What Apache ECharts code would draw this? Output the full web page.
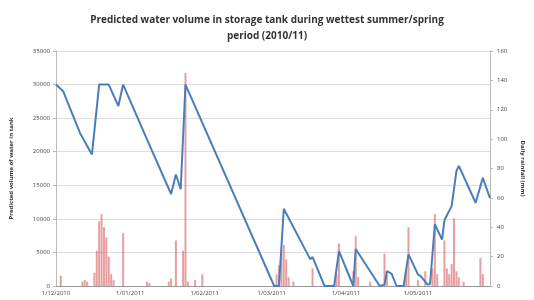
<!DOCTYPE html>
<html lang="en" style="height: 100%">
<head>
  <meta charset="utf-8">
</head>
<body style="height: 100%; margin: 0; background: #fff">
  <div id="container" style="width: 534px; height: 300px"></div>

  <script type="text/javascript" src="https://fastly.jsdelivr.net/npm/echarts@6/dist/echarts.min.js"></script>
  <script type="text/javascript">
    // one category per day, 1 Dec 2010 .. 31 May 2011
    var startDate = new Date(2010, 11, 1);
    var dayCount = 182;

    // predicted tank volume (L), [day index, value] at the turning points
    var volume = [
      [0, 30000], [3, 29000], [10, 22800], [12, 21500], [15, 19600],
      [18, 30000], [22, 30000], [26, 26800], [28, 30000], [38, 21800],
      [48, 13700], [50, 16600], [52, 14400], [54, 30000], [91, 0],
      [93, 0], [95, 11500], [106, 4000], [107, 4300], [112, 0],
      [116, 0], [118, 5200], [124, 0], [125, 5500], [135, 0],
      [137, 200], [138, 2200], [140, 1800], [142, 0], [145, 0],
      [147, 4700], [151, 1700], [152, 1500], [155, 200], [156, 300],
      [158, 9200], [161, 6900], [162, 9800], [163, 10500], [165, 11900],
      [167, 17100], [168, 17900], [175, 12400], [178, 16100], [181, 13100]
    ];

    // daily rainfall (mm), [day index, value]
    var rainfall = [
      [2, 7], [11, 3], [12, 4], [13, 3], [16, 9], [17, 24], [18, 44], [19, 49],
      [20, 40], [21, 33], [22, 20], [23, 8], [24, 4], [28, 36], [38, 3], [39, 2],
      [47, 3], [48, 5], [50, 31], [53, 24], [54, 145], [55, 3], [58, 4], [61, 8],
      [92, 8], [93, 14], [94, 24], [95, 28], [96, 18], [97, 6], [99, 3], [107, 12],
      [117, 8], [118, 29], [124, 10], [125, 34], [126, 6], [131, 3], [137, 22], [138, 8],
      [146, 10], [147, 40], [151, 4], [154, 10], [157, 12], [158, 49], [159, 8],
      [162, 31], [163, 12], [164, 8], [165, 15], [166, 46], [167, 10], [168, 6],
      [170, 3], [177, 19], [178, 8]
    ];

    var days = [];
    for (var i = 0; i < dayCount; i++) {
      var d = new Date(startDate.getFullYear(), startDate.getMonth(), startDate.getDate() + i);
      var mm = d.getMonth() + 1;
      days.push(d.getDate() + '/' + (mm < 10 ? '0' + mm : mm) + '/' + d.getFullYear());
    }

    var myChart = echarts.init(document.getElementById('container'), null, { renderer: 'canvas' });
    var firstOfMonth = function (idx, value) { return value.indexOf('1/') === 0; };

    var option = {
      backgroundColor: '#fff',
      animation: false,
      textStyle: { fontFamily: 'Open Sans' },
      title: {
        text: 'Predicted water volume in storage tank during wettest summer/spring\nperiod (2010/11)',
        left: 'center',
        top: 7,
        textStyle: { fontSize: 10, fontWeight: 'bold', lineHeight: 16, color: '#333', fontFamily: 'Open Sans' }
      },
      grid: { left: 55, right: 36, top: 51, bottom: 14 },
      xAxis: {
        type: 'category',
        data: days,
        boundaryGap: false,
        axisLine: { lineStyle: { color: '#999' } },
        axisTick: { show: false },
        axisLabel: { interval: firstOfMonth, fontSize: 6, color: '#444', margin: 4 }
      },
      yAxis: [
        {
          type: 'value',
          min: 0, max: 35000, interval: 5000,
          name: 'Predicted volume of water in tank',
          nameLocation: 'middle',
          nameGap: 42,
          nameTextStyle: { fontSize: 6, fontWeight: 'bold', color: '#333' },
          axisLine: { show: true, lineStyle: { color: '#bbb' } },
          axisTick: { show: true, length: 3, lineStyle: { color: '#bbb' } },
          axisLabel: { fontSize: 6, color: '#444', margin: 6, formatter: function (v) { return String(v); } },
          splitLine: { lineStyle: { color: '#ddd' } }
        },
        {
          type: 'value',
          min: 0, max: 160, interval: 20,
          name: 'Daily rainfall (mm)',
          nameLocation: 'middle',
          nameGap: 30,
          nameRotate: -90,
          nameTextStyle: { fontSize: 6, fontWeight: 'bold', color: '#333' },
          axisLine: { show: true, lineStyle: { color: '#bbb' } },
          axisTick: { show: true, length: 3, lineStyle: { color: '#bbb' } },
          axisLabel: { fontSize: 6, color: '#444', margin: 7 },
          splitLine: { show: false }
        }
      ],
      series: [
        {
          name: 'Daily rainfall',
          type: 'bar',
          yAxisIndex: 1,
          data: rainfall,
          barWidth: 2,
          itemStyle: { color: 'rgba(215,95,95,0.6)' },
          z: 1
        },
        {
          name: 'Tank volume',
          type: 'line',
          yAxisIndex: 0,
          data: volume,
          showSymbol: false,
          lineStyle: { color: '#4a7ebb', width: 2 },
          z: 3
        }
      ]
    };

    myChart.setOption(option);
    window.addEventListener('resize', myChart.resize);
  </script>
</body>
</html>
